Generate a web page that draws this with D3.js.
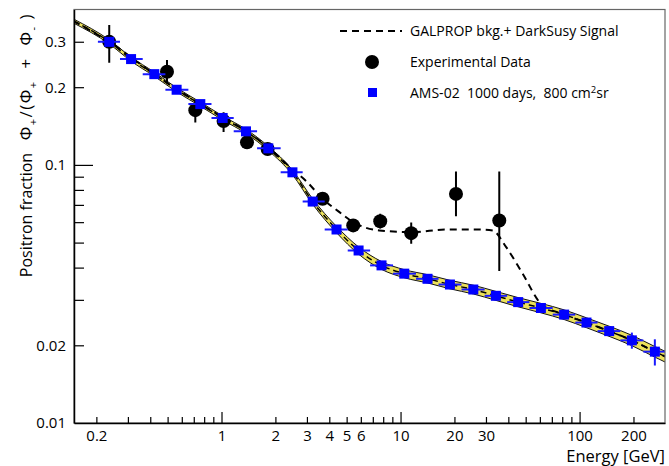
<html>
<head>
  <meta charset="utf8">
  <title>Positron fraction</title>
  <style>
  * { margin: 0; padding: 0; }
  body { background: #fff; }
  svg text { font-family: "Open Sans", sans-serif; }
  </style>
</head>
<body>
  <script src="https://cdn.jsdelivr.net/npm/d3@7"></script>
  <script>
  // size of the page
  var w = 669;
  var h = 466;

  // GALPROP background (centre of the band)
  var bgE = [0.149, 0.236, 0.3125, 0.421, 0.561, 0.761, 1.015, 1.37, 1.826, 2.49, 3.23, 4.39, 5.83, 7.83, 10.5, 14.2, 18.9, 25.5, 34.1, 45.4, 60.8, 82, 109, 146, 196, 263, 300];
  var bgF = [0.361, 0.2997, 0.257, 0.2247, 0.1955, 0.172, 0.152, 0.1349, 0.1159, 0.0936, 0.0721, 0.0562, 0.0466, 0.0408, 0.0379, 0.0362, 0.0344, 0.0329, 0.0311, 0.0294, 0.0279, 0.0263, 0.0245, 0.0227, 0.0209, 0.0189, 0.0181];
  var bandRel = [0.018, 0.018, 0.018, 0.018, 0.018, 0.018, 0.018, 0.018, 0.019, 0.021, 0.024, 0.028, 0.032, 0.035, 0.036, 0.037, 0.038, 0.039, 0.040, 0.041, 0.042, 0.043, 0.044, 0.045, 0.046, 0.047, 0.048];

  // GALPROP bkg + DarkSusy signal (dashed)
  var sigE = [0.149, 0.236, 0.421, 0.761, 1.37, 1.826, 2.45, 3.02, 3.67, 4.48, 5.44, 7.6, 11.7, 17.9, 27.6, 32.7, 38.9, 48.1, 60.8, 82, 109, 146, 196, 263, 300];
  var sigF = [0.361, 0.2997, 0.2247, 0.172, 0.1349, 0.117, 0.097, 0.0856, 0.0739, 0.0662, 0.060, 0.0557, 0.0549, 0.0562, 0.0562, 0.0557, 0.048, 0.0379, 0.029, 0.0263, 0.0245, 0.0227, 0.0209, 0.0189, 0.0181];

  // experimental data
  var expE = [0.236, 0.496, 0.714, 1.027, 1.388, 1.81, 3.67, 5.44, 7.70, 11.47, 20.4, 35.6];
  var expF = [0.2997, 0.2294, 0.163, 0.148, 0.1223, 0.1153, 0.0739, 0.0583, 0.0605, 0.0544, 0.0772, 0.0609];
  var expLo = [0.249, 0.207, 0.146, 0.134, 0.116, 0.109, 0.070, 0.055, 0.0567, 0.0495, 0.0633, 0.0388];
  var expHi = [0.348, 0.2547, 0.177, 0.160, 0.129, 0.121, 0.078, 0.0615, 0.0647, 0.0598, 0.0943, 0.0943];

  // AMS-02 1000 days projection
  var amsE = [0.236, 0.3125, 0.4214, 0.5614, 0.7614, 1.015, 1.37, 1.826, 2.49, 3.23, 4.39, 5.83, 7.83, 10.49, 14.15, 18.87, 25.5, 34.1, 45.4, 60.8, 82.0, 109.3, 146.3, 195.9, 263.3];
  var amsF = [0.2997, 0.257, 0.2247, 0.1955, 0.172, 0.152, 0.1349, 0.1159, 0.0936, 0.0721, 0.0562, 0.0466, 0.0408, 0.0379, 0.0362, 0.0344, 0.0329, 0.0311, 0.0294, 0.0279, 0.0263, 0.0245, 0.0227, 0.0209, 0.0189];
  var amsErr = [0.002, 0.002, 0.002, 0.0015, 0.0015, 0.0012, 0.001, 0.001, 0.0008, 0.0006, 0.0005, 0.0004, 0.0004, 0.0004, 0.0004, 0.0004, 0.0004, 0.0004, 0.0004, 0.0004, 0.0005, 0.0006, 0.0009, 0.0015, 0.0022];
  var amsEdges = [0.204, 0.271, 0.363, 0.486, 0.653, 0.879, 1.17, 1.58, 2.14, 2.84, 3.77, 5.07, 6.76, 9.08, 12.2, 16.3, 21.9, 29.5, 39.4, 52.5, 70.8, 94.6, 126, 169, 227, 302];

  // ticks
  var xMajor = [1, 10, 100];
  var xMinor = [0.2, 0.3, 0.4, 0.5, 0.6, 0.7, 0.8, 0.9, 2, 3, 4, 5, 6, 7, 8, 9, 20, 30, 40, 50, 60, 70, 80, 90, 200];
  var xLabels = [0.2, 1, 2, 3, 4, 5, 6, 10, 20, 30, 100, 200];
  var yMajor = [0.1];
  var yMinor = [0.02, 0.03, 0.04, 0.05, 0.06, 0.07, 0.08, 0.09, 0.2, 0.3];
  var yLabels = [0.01, 0.02, 0.1, 0.2, 0.3];

  var mLeft = 74, mRight = 665, mTop = 9.5, mBottom = 423;

  var xScale = d3.scaleLog().domain([0.15, 300]).range([mLeft, mRight]);
  var yScale = d3.scaleLog().domain([0.01, 0.4]).range([mBottom, mTop]);

  var svg = d3.select("body").append("svg")
    .attr("width", w)
    .attr("height", h);

  svg.append("defs").append("clipPath").attr("id", "plot")
    .append("rect")
    .attr("x", mLeft).attr("y", mTop)
    .attr("width", mRight - mLeft).attr("height", mBottom - mTop);

  var plot = svg.append("g").attr("clip-path", "url(#plot)");

  //band around background
  var bg = bgE.map(function(e, i) { return { e: e, f: bgF[i], r: bandRel[i] }; });
  var band = d3.area()
    .curve(d3.curveMonotoneX)
    .x(function(d) { return xScale(d.e); })
    .y0(function(d) { return yScale(d.f * (1 - d.r)); })
    .y1(function(d) { return yScale(d.f * (1 + d.r)); });
  plot.append("path").datum(bg)
    .attr("d", band)
    .attr("fill", "#ece15a")
    .attr("stroke", "none");

  var lineLo = d3.line().curve(d3.curveMonotoneX)
    .x(function(d) { return xScale(d.e); })
    .y(function(d) { return yScale(d.f * (1 - d.r)); });
  var lineHi = d3.line().curve(d3.curveMonotoneX)
    .x(function(d) { return xScale(d.e); })
    .y(function(d) { return yScale(d.f * (1 + d.r)); });
  var lineMid = d3.line().curve(d3.curveMonotoneX)
    .x(function(d) { return xScale(d.e); })
    .y(function(d) { return yScale(d.f); });

  [lineLo, lineHi].forEach(function(l) {
    plot.append("path").datum(bg)
      .attr("d", l)
      .attr("fill", "none")
      .attr("stroke", "#111")
      .attr("stroke-width", 1);
  });
  plot.append("path").datum(bg)
    .attr("d", lineMid)
    .attr("fill", "none")
    .attr("stroke", "#000")
    .attr("stroke-width", 1.5)
    .attr("stroke-dasharray", "6,4");

  //signal curve
  var sig = sigE.map(function(e, i) { return { e: e, f: sigF[i] }; });
  plot.append("path").datum(sig)
    .attr("d", lineMid)
    .attr("fill", "none")
    .attr("stroke", "#000")
    .attr("stroke-width", 2)
    .attr("stroke-dasharray", "7,5");

  //experimental data
  var exp = expE.map(function(e, i) { return { e: e, f: expF[i], lo: expLo[i], hi: expHi[i] }; });
  plot.selectAll("line.experr")
    .data(exp).enter().append("line")
    .attr("class", "experr")
    .attr("x1", function(d) { return xScale(d.e); })
    .attr("x2", function(d) { return xScale(d.e); })
    .attr("y1", function(d) { return yScale(d.lo); })
    .attr("y2", function(d) { return yScale(d.hi); })
    .attr("stroke", "#000")
    .attr("stroke-width", 2);
  plot.selectAll("circle.exp")
    .data(exp).enter().append("circle")
    .attr("class", "exp")
    .attr("cx", function(d) { return xScale(d.e); })
    .attr("cy", function(d) { return yScale(d.f); })
    .attr("r", 7)
    .attr("fill", "#000");

  //AMS-02 points
  var ams = amsE.map(function(e, i) {
    return { e: e, f: amsF[i], err: amsErr[i], lo: amsEdges[i], hi: amsEdges[i + 1] };
  });
  plot.selectAll("line.amsx")
    .data(ams).enter().append("line")
    .attr("class", "amsx")
    .attr("x1", function(d) { return xScale(d.lo); })
    .attr("x2", function(d) { return xScale(d.hi); })
    .attr("y1", function(d) { return yScale(d.f); })
    .attr("y2", function(d) { return yScale(d.f); })
    .attr("stroke", "#1a1aff")
    .attr("stroke-width", 2);
  plot.selectAll("line.amsy")
    .data(ams).enter().append("line")
    .attr("class", "amsy")
    .attr("x1", function(d) { return xScale(d.e); })
    .attr("x2", function(d) { return xScale(d.e); })
    .attr("y1", function(d) { return yScale(d.f - d.err); })
    .attr("y2", function(d) { return yScale(d.f + d.err); })
    .attr("stroke", "#1a1aff")
    .attr("stroke-width", 2);
  plot.selectAll("rect.ams")
    .data(ams).enter().append("rect")
    .attr("class", "ams")
    .attr("x", function(d) { return xScale(d.e) - 5; })
    .attr("y", function(d) { return yScale(d.f) - 5; })
    .attr("width", 10)
    .attr("height", 10)
    .attr("fill", "#0000ff");

  //frame
  svg.append("rect")
    .attr("x", mLeft).attr("y", mTop)
    .attr("width", mRight - mLeft).attr("height", mBottom - mTop)
    .attr("fill", "none")
    .attr("stroke", "#666")
    .attr("stroke-width", 1.2);

  //X axis
  var xAxis = d3.axisBottom(xScale)
    .tickValues(xMajor.concat(xMinor).sort(d3.ascending))
    .tickSize(-6)
    .tickSizeOuter(0)
    .tickPadding(7)
    .tickFormat(function(d) { return xLabels.indexOf(d) >= 0 ? d3.format("~g")(d) : ""; });
  var gx = svg.append("g")
    .attr("transform", "translate(0," + mBottom + ")")
    .call(xAxis);
  gx.selectAll(".tick line")
    .attr("y2", function(d) { return xMajor.indexOf(d) >= 0 ? -11 : -6; })
    .attr("stroke-width", 1.2);
  gx.select(".domain").attr("stroke-width", 1.5);
  gx.selectAll("text")
    .attr("font-family", "Open Sans, sans-serif")
    .attr("font-size", 15)
    .attr("fill", "#000");

  //Y axis
  var yAxis = d3.axisLeft(yScale)
    .tickValues(yMajor.concat(yMinor).concat([0.01]).sort(d3.ascending))
    .tickSize(-10)
    .tickSizeOuter(0)
    .tickPadding(8)
    .tickFormat(function(d) { return yLabels.indexOf(d) >= 0 ? d3.format("~g")(d) : ""; });
  var gy = svg.append("g")
    .attr("transform", "translate(" + mLeft + ",0)")
    .call(yAxis);
  gy.selectAll(".tick line")
    .attr("x2", function(d) { return yMajor.indexOf(d) >= 0 ? 19 : (d === 0.01 ? 0 : 10); })
    .attr("stroke-width", 1.2);
  gy.select(".domain").attr("stroke-width", 1.5);
  gy.selectAll("text")
    .attr("font-family", "Open Sans, sans-serif")
    .attr("font-size", 15)
    .attr("fill", "#000");

  //axis titles
  svg.append("text")
    .attr("x", mRight)
    .attr("y", 462)
    .attr("text-anchor", "end")
    .attr("font-size", 16.5)
    .text("Energy [GeV]");

  var yt = svg.append("text")
    .attr("transform", "translate(32,13) rotate(-90)")
    .attr("text-anchor", "end")
    .attr("font-size", 16)
    .style("white-space", "pre");
  yt.append("tspan").text("Positron fraction   ");
  var phi = yt.append("tspan").attr("font-size", 17).attr("letter-spacing", 1.5);
  phi.append("tspan").text("\u03A6");
  phi.append("tspan").attr("font-size", 11).attr("dy", 5).text("+");
  phi.append("tspan").attr("dy", -5).text("/(\u03A6");
  phi.append("tspan").attr("font-size", 11).attr("dy", 5).text("+");
  phi.append("tspan").attr("dy", -5).text("  +  \u03A6");
  phi.append("tspan").attr("font-size", 11).attr("dy", 5).text("-");
  phi.append("tspan").attr("dy", -5).text(" )");

  //legend
  var lg = svg.append("g").attr("font-size", 14);
  lg.append("line")
    .attr("x1", 340).attr("x2", 402)
    .attr("y1", 31).attr("y2", 31)
    .attr("stroke", "#000")
    .attr("stroke-width", 2)
    .attr("stroke-dasharray", "7,5");
  lg.append("text").attr("x", 410).attr("y", 36).text("GALPROP bkg.+ DarkSusy Signal");
  lg.append("circle").attr("cx", 372).attr("cy", 62).attr("r", 7).attr("fill", "#000");
  lg.append("text").attr("x", 410).attr("y", 67).text("Experimental Data");
  lg.append("rect").attr("x", 368).attr("y", 88).attr("width", 9).attr("height", 9).attr("fill", "#0000ff");
  var at = lg.append("text").attr("x", 410).attr("y", 97.5).style("white-space", "pre");
  at.append("tspan").text("AMS-02  1000 days,  800 cm");
  at.append("tspan").attr("font-size", 9.5).attr("dy", -5).text("2");
  at.append("tspan").attr("dy", 5).text("sr");
  </script>
</body>
</html>
